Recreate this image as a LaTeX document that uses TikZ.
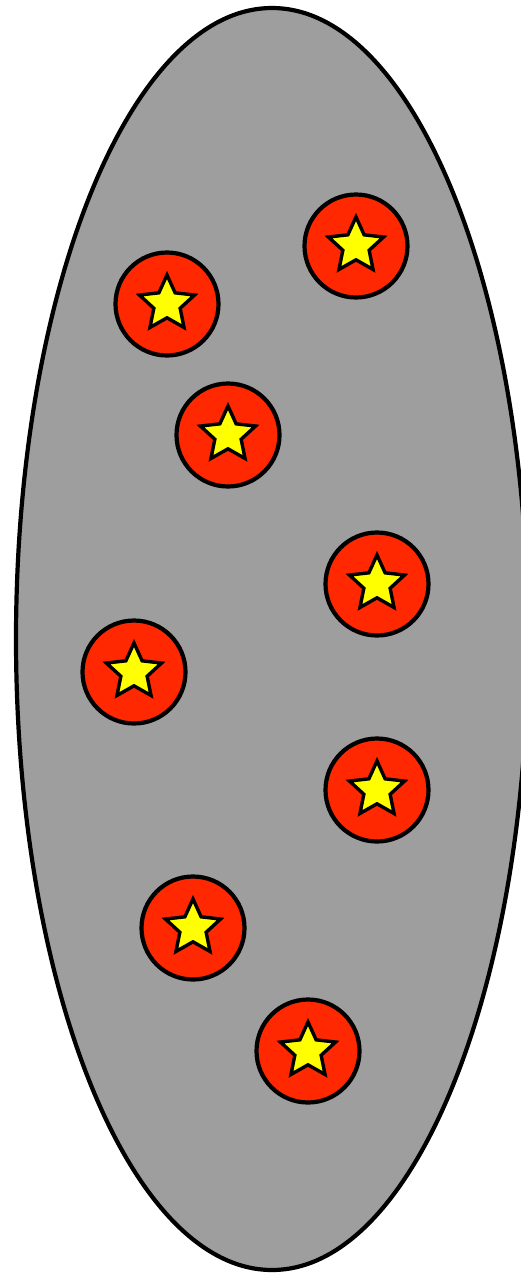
\documentclass[tikz,border=0pt]{standalone}
\usetikzlibrary{shapes.geometric}
\definecolor{bodygray}{RGB}{158,158,158}
\definecolor{ballred}{RGB}{255,40,0}
\definecolor{staryellow}{RGB}{255,255,0}
\begin{document}
\begin{tikzpicture}[x=1pt,y=-1pt,
  ball/.style={circle,draw=black,fill=ballred,line width=4.2pt,minimum size=103pt,inner sep=0pt},
  starmark/.style={star,star points=5,star point ratio=2.1,draw=black,fill=staryellow,line width=3.4pt,minimum size=58pt,inner sep=0pt}]
\useasboundingbox (0,0) rectangle (521,1275);
\clip (0,0) rectangle (521,1275);
\node[ellipse,draw=black,fill=bodygray,line width=4.2pt,minimum width=512pt,minimum height=1262pt,inner sep=0pt] (body) at (272,639) {};
\foreach \n/\x/\y in {1/356/246,2/167/304,3/228/435,4/377/584,5/134/672,6/377/790,7/193/928,8/308/1051}{
  \node[ball] (b\n) at (\x,\y) {};
  \node[starmark] (s\n) at (b\n.center) {};
}
\end{tikzpicture}
\end{document}
